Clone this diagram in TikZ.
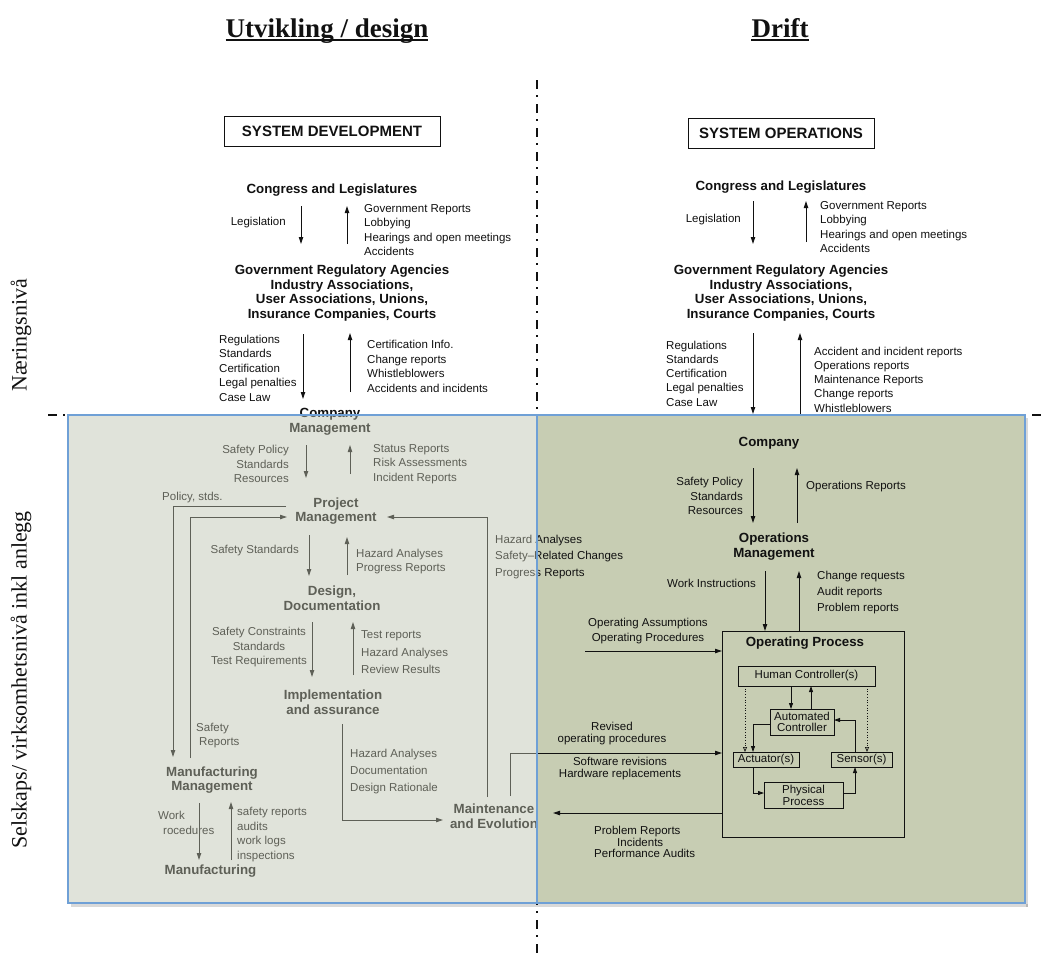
\documentclass[tikz,border=0pt]{standalone}
\usepackage{fontspec}
\setmainfont{Liberation Sans}
\newfontfamily\serifhd{Liberation Serif}
\usetikzlibrary{arrows.meta}
\definecolor{rightfill}{RGB}{199,205,179}
\definecolor{leftfill}{RGB}{188,193,173}
\definecolor{panelborder}{RGB}{111,160,214}
\definecolor{ink}{RGB}{17,17,17}
\begin{document}
\begin{tikzpicture}[x=1pt,y=-1pt,
  txt/.style={inner sep=0pt, font=\fontsize{11.5}{14.5}\selectfont, align=left, text=ink},
  hd/.style={inner sep=0pt, font=\bfseries\fontsize{13.3}{14.8}\selectfont, align=center, text=ink},
  arr/.style={draw=ink, line width=0.9pt, -{Triangle[length=7pt,width=4.4pt]}},
  sarr/.style={draw=ink, line width=0.8pt, -{Triangle[length=6pt,width=4pt]}},
  ln/.style={draw=ink, line width=0.9pt},
  boxx/.style={draw=ink, line width=0.8pt, inner sep=0pt, font=\fontsize{11.5}{11}\selectfont, align=center, text=ink},
  sysbox/.style={draw=ink, line width=0.8pt, inner sep=0pt, minimum height=30pt, font=\bfseries\fontsize{15}{16}\selectfont, text=ink},
  ddash/.style={draw=ink, line width=1.8pt, dash pattern=on 9pt off 6pt on 1.5pt off 7.5pt},
  sidelab/.style={rotate=90, inner sep=0pt, font=\serifhd\fontsize{22}{24}\selectfont, text=ink},
  heading/.style={inner sep=0pt, anchor=base, font=\serifhd\bfseries\fontsize{27}{30}\selectfont, text=ink},
  dotarr/.style={draw=ink, line width=0.7pt, dotted, -{Triangle[open,length=5pt,width=4pt]}},
]
\useasboundingbox (0,0) rectangle (1047,956);
\fill[white] (0,0) rectangle (1047,956);

% right panel (behind content)
\fill[rightfill] (537,415) rectangle (1025,903);
\fill[black,opacity=0.15] (71,903.6) rectangle (1028,906.5);
\fill[black,opacity=0.15] (1025.6,418) rectangle (1028,906.5);

% dash-dot separators
\draw[ddash] (537,80) -- (537,956);
\draw[ddash] (48,415) -- (1042,415);

% headings
\node[heading] (hdev) at (327,37) {Utvikling / design};
\draw[ln, line width=1.3pt] ([yshift=-3pt]hdev.base west) -- ([yshift=-3pt]hdev.base east);
\node[heading] (hdrift) at (780,37) {Drift};
\draw[ln, line width=1.3pt] ([yshift=-3pt]hdrift.base west) -- ([yshift=-3pt]hdrift.base east);

% side labels
\node[sidelab] (lab1) at (21,335) {Næringsnivå};
\node[sidelab] (lab2) at (21,680) {Selskaps/ virksomhetsnivå inkl anlegg};

% system boxes
\node[sysbox, minimum width=216pt] (sysdev) at (332,131) {SYSTEM DEVELOPMENT};
\node[sysbox, minimum width=186pt] (sysop) at (781,133) {SYSTEM OPERATIONS};

% ===== left, upper =====
\node[hd] (cl1) at (332,190) {Congress and Legislatures};
\node[txt, anchor=east] (leg1) at (286,223) {Legislation};
\node[txt, anchor=west] (gov1) at (364,230) {Government Reports\\Lobbying\\Hearings and open meetings\\Accidents};
\draw[arr] (301,206) -- (301,244);
\draw[arr] (347,244) -- (347,206);
\node[hd] (gra1) at (342,293) {Government Regulatory Agencies\\Industry Associations,\\User Associations, Unions,\\Insurance Companies, Courts};
\node[txt, anchor=west] (reg1) at (219,368) {Regulations\\Standards\\Certification\\Legal penalties\\Case Law};
\node[txt, anchor=west] (cert1) at (367,366.5) {Certification Info.\\Change reports\\Whistleblowers\\Accidents and incidents};
\draw[arr] (303,334) -- (303,399);
\draw[arr] (350,392) -- (350,333);

% ===== left, lower =====
\node[hd] (cm) at (330,422) {Company\\Management};
\draw[arr] (306,445) -- (306,478);
\draw[arr] (350,474) -- (350,445);
\node[txt, anchor=east, align=right] (spl) at (289,464) {Safety Policy\\Standards\\Resources};
\node[txt, anchor=west] (srl) at (373,464) {Status Reports\\Risk Assessments\\Incident Reports};
\node[txt, anchor=west] (pstds) at (162,498) {Policy, stds.};
\node[hd] (pm) at (336,511) {Project\\Management};
\draw[arr] (286,506) -- (173,506) -- (173,757);
\draw[arr] (190,758) -- (190,517) -- (287,517);
\draw[arr] (487,797) -- (487,517) -- (387,517);
\draw[arr] (309,535) -- (309,576);
\draw[arr] (347,575) -- (347,537);
\node[txt, anchor=east] (ss) at (299,551) {Safety Standards};
\node[txt, anchor=west] (hapr) at (356,561.5) {Hazard Analyses\\Progress Reports};
\node[hd] (dd) at (332,598.5) {Design,\\Documentation};
\draw[arr] (312,622) -- (312,677);
\draw[arr] (353,675) -- (353,622);
\node[txt, align=center, font=\fontsize{11.5}{14.5}\selectfont] (sct) at (259,647.5) {Safety Constraints\\Standards\\Test Requirements};
\node[txt, anchor=west, font=\fontsize{11.5}{17.5}\selectfont] (trl) at (361,652.5) {Test reports\\Hazard Analyses\\Review Results};
\node[hd] (ia) at (333,702.5) {Implementation\\and assurance};
\draw[arr] (342,724) -- (342,820) -- (443,820);
\node[txt, anchor=west, font=\fontsize{11.5}{17}\selectfont] (hdd) at (350,772) {Hazard Analyses\\Documentation\\Design Rationale};
\node[txt, anchor=west] (sr) at (196,735.5) {Safety\\\hspace*{3pt}Reports};
\node[hd] (mm) at (212,780) {Manufacturing\\Management};
\draw[arr] (199,803) -- (199,860);
\draw[arr] (231,860) -- (231,802);
\node[txt, anchor=west] (work) at (158,823) {Work\\\hspace*{5pt}rocedures};
\node[txt, anchor=west] (sal) at (237,834.5) {safety reports\\audits\\work logs\\inspections};
\node[hd] (mf) at (210.5,871) {Manufacturing};
\node[hd] (me) at (494,816) {Maintenance\\and Evolution};
\node[txt, anchor=west, font=\fontsize{11.5}{16.8}\selectfont] (hsp) at (495,557) {Hazard Analyses\\Safety–Related Changes\\Progress Reports};

% ===== right, upper =====
\node[hd] (cl2) at (781,187) {Congress and Legislatures};
\node[txt, anchor=east] (leg2) at (741,220) {Legislation};
\node[txt, anchor=west] (gov2) at (820,227) {Government Reports\\Lobbying\\Hearings and open meetings\\Accidents};
\draw[arr] (753,201) -- (753,244);
\draw[arr] (806,242) -- (806,201);
\node[hd] (gra2) at (781,293) {Government Regulatory Agencies\\Industry Associations,\\User Associations, Unions,\\Insurance Companies, Courts};
\node[txt, anchor=west, font=\fontsize{11.5}{14.25}\selectfont] (reg2) at (666,373.5) {Regulations\\Standards\\Certification\\Legal penalties\\Case Law};
\node[txt, anchor=west, font=\fontsize{11.5}{14.25}\selectfont] (accl) at (814,379.5) {Accident and incident reports\\Operations reports\\Maintenance Reports\\Change reports\\Whistleblowers};
\draw[arr] (753,333) -- (753,414);
\draw[arr] (800,414) -- (800,333);

% ===== right, lower =====
\node[hd] (comp) at (769,443) {Company};
\draw[arr] (753,468) -- (753,523);
\draw[arr] (797,523) -- (797,468);
\node[txt, anchor=east, align=right] (spr) at (743,496) {Safety Policy\\Standards\\Resources};
\node[txt, anchor=west] (opr) at (806,487) {Operations Reports};
\node[hd] (om) at (774,546.5) {Operations\\Management};
\draw[arr] (765,571) -- (765,631);
\draw[arr] (799,631) -- (799,571);
\node[txt, anchor=east] (wi) at (756,583) {Work Instructions};
\node[txt, anchor=west, font=\fontsize{11.5}{16}\selectfont] (crl) at (817,593) {Change requests\\Audit reports\\Problem reports};
\node[txt, align=center] (oap) at (648,631) {Operating Assumptions\\Operating Procedures};
\draw[arr] (585,651) -- (722,651);

% operating process
\node[draw=ink, line width=0.9pt, minimum width=182pt, minimum height=206pt, inner sep=0pt] (opb) at (813,734) {};
\node[hd] (opt) at (805,643) {Operating Process};
\node[boxx, minimum width=137pt, minimum height=20pt] (hc) at (806.5,676) {Human Controller(s)};
\node[boxx, minimum width=64pt, minimum height=26pt] (ac) at (802,722) {Automated\\Controller};
\node[boxx, minimum width=66pt, minimum height=15pt] (act) at (766,759.5) {Actuator(s)};
\node[boxx, minimum width=61pt, minimum height=15pt] (sen) at (861.5,759.5) {Sensor(s)};
\node[boxx, minimum width=79pt, minimum height=26pt, font=\fontsize{11.5}{12}\selectfont] (pp) at (803.5,795) {Physical\\Process};
\draw[sarr] (791,686) -- (791,709);
\draw[sarr] (811,709) -- (811,686);
\draw[sarr] (770,724) -| (753,752);
\draw[sarr] (753,767) |- (764,793);
\draw[sarr] (843,793) -| (855,767);
\draw[sarr] (855,752) |- (834,720);
\draw[dotarr] (745,686) -- (745,752);
\draw[dotarr] (867,686) -- (867,752);

\node[txt, align=center, font=\fontsize{11.5}{12}\selectfont] (rev) at (612,734) {Revised\\operating procedures};
\draw[arr] (510,796) -- (510,753) -- (722,753);
\node[txt, align=center, font=\fontsize{11.5}{12}\selectfont] (swh) at (620,769) {Software revisions\\Hardware replacements};
\draw[arr] (722,813) -- (553,813);
\node[txt, anchor=west, font=\fontsize{11.5}{11.8}\selectfont] (prl) at (594,842) {Problem Reports\\\hspace*{23pt}Incidents\\Performance Audits};

% left panel overlay and borders
\fill[leftfill, fill opacity=0.45] (68,415) rectangle (537,903);
\draw[panelborder, line width=1.2pt] (68,415) rectangle (537,903);
\draw[panelborder, line width=1.2pt] (537,415) rectangle (1025,903);
\end{tikzpicture}
\end{document}
